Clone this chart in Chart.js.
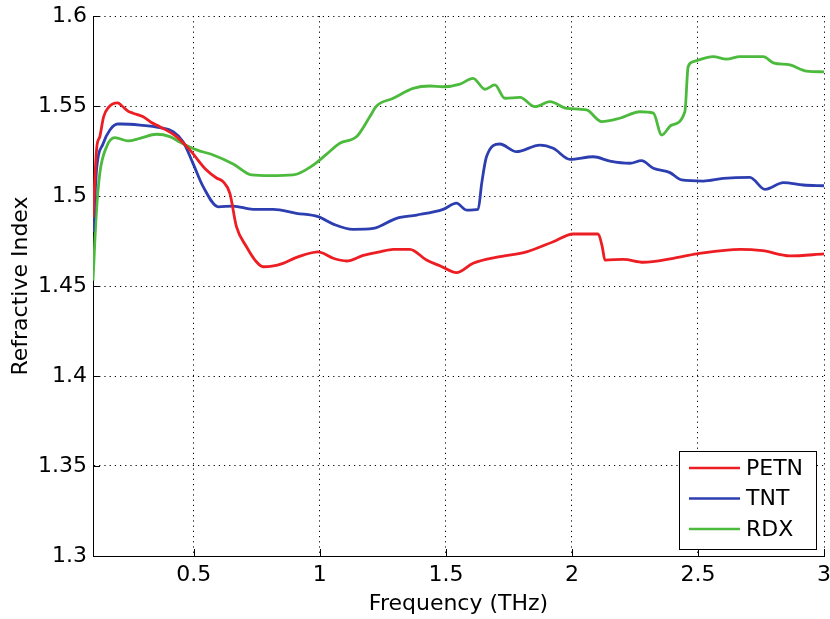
<!DOCTYPE html>
<html>
<head>
<meta charset="utf-8">
<script src="https://cdn.jsdelivr.net/npm/chart.js@4.4.1/dist/chart.umd.min.js"></script>
<style>
    html, body { margin: 0; padding: 0; background: #fff; }
</style>
</head>
<body>
<canvas id="bieudo" width="830" height="619"></canvas>
<script>
// tick values / labels
const xTicks = [0.5, 1, 1.5, 2, 2.5, 3];
const xTickLabels = ['0.5', '1', '1.5', '2', '2.5', '3'];
const yTicks = [1.3, 1.35, 1.4, 1.45, 1.5, 1.55, 1.6];
const yTickLabels = ['1.3', '1.35', '1.4', '1.45', '1.5', '1.55', '1.6'];

const seriesNames = ['PETN', 'TNT', 'RDX'];

// PETN
const petnFreq = [0.100, 0.115, 0.127, 0.142, 0.160, 0.198, 0.215, 0.240, 0.259, 0.299, 0.330, 0.365, 0.431, 0.484, 0.550, 0.590, 0.616, 0.643, 0.669, 0.709, 0.745, 0.775, 0.810, 0.854, 0.900, 0.934, 0.993, 1.053, 1.106, 1.172, 1.238, 1.291, 1.357, 1.423, 1.480, 1.542, 1.608, 1.714, 1.820, 1.926, 2.005, 2.104, 2.120, 2.131, 2.204, 2.283, 2.402, 2.495, 2.667, 2.756, 2.865, 3.000];
const petnIndex = [1.488, 1.527, 1.533, 1.544, 1.549, 1.5517, 1.550, 1.547, 1.546, 1.544, 1.541, 1.5385, 1.533, 1.5256, 1.5144, 1.510, 1.508, 1.5015, 1.483, 1.4718, 1.464, 1.4607, 1.461, 1.4626, 1.4655, 1.4672, 1.469, 1.4654, 1.4639, 1.467, 1.469, 1.4704, 1.4704, 1.4644, 1.461, 1.4574, 1.4626, 1.4663, 1.469, 1.4746, 1.4789, 1.4789, 1.472, 1.4644, 1.4648, 1.4632, 1.4654, 1.4678, 1.4704, 1.4696, 1.4667, 1.4678];

// TNT
const tntFreq = [0.100, 0.115, 0.140, 0.167, 0.198, 0.213, 0.286, 0.365, 0.418, 0.458, 0.497, 0.537, 0.597, 0.656, 0.735, 0.815, 0.907, 0.993, 1.053, 1.132, 1.212, 1.304, 1.384, 1.489, 1.542, 1.582, 1.628, 1.642, 1.661, 1.714, 1.780, 1.873, 1.926, 1.992, 2.085, 2.151, 2.230, 2.276, 2.323, 2.389, 2.435, 2.521, 2.600, 2.706, 2.766, 2.839, 2.918, 3.000];
const tntIndex = [1.480, 1.516, 1.529, 1.5367, 1.540, 1.540, 1.5394, 1.538, 1.5357, 1.530, 1.518, 1.5052, 1.494, 1.4944, 1.4926, 1.4926, 1.4904, 1.4885, 1.4844, 1.4815, 1.482, 1.4876, 1.4894, 1.4926, 1.496, 1.4922, 1.4926, 1.507, 1.5218, 1.5289, 1.5246, 1.5283, 1.5265, 1.5204, 1.5218, 1.5194, 1.5182, 1.5196, 1.5154, 1.513, 1.5089, 1.5083, 1.5098, 1.5104, 1.5037, 1.5074, 1.5061, 1.5057];

// RDX
const rdxFreq = [0.100, 0.113, 0.127, 0.154, 0.187, 0.239, 0.286, 0.352, 0.405, 0.444, 0.511, 0.577, 0.656, 0.729, 0.802, 0.894, 0.974, 1.027, 1.079, 1.146, 1.198, 1.225, 1.291, 1.370, 1.437, 1.489, 1.556, 1.608, 1.655, 1.694, 1.734, 1.794, 1.853, 1.913, 1.979, 2.058, 2.118, 2.190, 2.270, 2.323, 2.356, 2.395, 2.448, 2.461, 2.481, 2.560, 2.613, 2.667, 2.759, 2.799, 2.865, 2.931, 3.000];
const rdxIndex = [1.453, 1.490, 1.5126, 1.5274, 1.5324, 1.5306, 1.532, 1.5343, 1.533, 1.530, 1.5256, 1.5228, 1.5178, 1.5117, 1.5113, 1.5117, 1.5172, 1.5233, 1.5293, 1.533, 1.544, 1.550, 1.5543, 1.5598, 1.5611, 1.5607, 1.5622, 1.5654, 1.5593, 1.5617, 1.5543, 1.5548, 1.5496, 1.5524, 1.5487, 1.5478, 1.5413, 1.5432, 1.5468, 1.546, 1.5339, 1.5394, 1.5468, 1.5718, 1.5746, 1.5774, 1.576, 1.5774, 1.5774, 1.574, 1.5728, 1.5694, 1.569];

function toPoints(xs, ys) {
    return xs.map(function (x, i) {
        return { x: x, y: ys[i] };
    });
}

const fontChu = { family: 'DejaVu Sans', size: 22 };

// short inward tick marks like matlab
const tickMarks = {
    id: 'tickMarks',
    beforeDatasetsDraw: function (chart) {
        var ctx = chart.ctx;
        var a = chart.chartArea;
        var sx = chart.scales.x;
        var sy = chart.scales.y;
        ctx.save();
        ctx.strokeStyle = '#000';
        ctx.lineWidth = 1;
        ctx.beginPath();
        xTicks.forEach(function (v) {
            var px = Math.round(sx.getPixelForValue(v)) + 0.5;
            ctx.moveTo(px, a.bottom);
            ctx.lineTo(px, a.bottom - 7);
        });
        yTicks.forEach(function (v) {
            var py = Math.round(sy.getPixelForValue(v)) + 0.5;
            ctx.moveTo(a.left, py);
            ctx.lineTo(a.left + 7, py);
        });
        ctx.stroke();
        ctx.restore();
    }
};

// legend box in lower right corner
const legendBox = {
    id: 'legendBox',
    afterDraw: function (chart) {
        var ctx = chart.ctx;
        var left = 679.5, top = 451.5, w = 137, h = 98;
        ctx.save();
        ctx.fillStyle = '#fff';
        ctx.fillRect(left, top, w, h);
        ctx.strokeStyle = '#000';
        ctx.lineWidth = 1;
        ctx.strokeRect(left, top, w, h);
        ctx.font = fontChu.size + 'px "' + fontChu.family + '"';
        ctx.textBaseline = 'middle';
        chart.data.datasets.forEach(function (ds, i) {
            var y = 468 + i * 30.5;
            ctx.strokeStyle = ds.borderColor;
            ctx.lineWidth = 2.5;
            ctx.beginPath();
            ctx.moveTo(689, y);
            ctx.lineTo(740, y);
            ctx.stroke();
            ctx.fillStyle = '#000';
            ctx.fillText(ds.label, 746, y + 1);
        });
        ctx.restore();
    }
};

const bieudo = document.getElementById('bieudo');

new Chart(bieudo, {
    type: 'line',
    data: {
        datasets: [{
            label: seriesNames[0],
            data: toPoints(petnFreq, petnIndex),
            borderColor: 'rgb(236, 30, 36)'
        }, {
            label: seriesNames[1],
            data: toPoints(tntFreq, tntIndex),
            borderColor: 'rgb(44, 62, 176)'
        }, {
            label: seriesNames[2],
            data: toPoints(rdxFreq, rdxIndex),
            borderColor: 'rgb(76, 186, 60)'
        }]
    },
    options: {
        responsive: false,
        animation: false,
        devicePixelRatio: 1,
        layout: {
            padding: { left: 0, top: 16, right: 6, bottom: 0 }
        },
        elements: {
            point: { radius: 0 },
            line: { borderWidth: 2.8, cubicInterpolationMode: 'monotone', fill: false }
        },
        plugins: {
            legend: { display: false },
            tooltip: { enabled: false }
        },
        scales: {
            x: {
                type: 'linear',
                min: 0.1,
                max: 3,
                afterBuildTicks: function (scale) {
                    scale.ticks = xTicks.map(function (v) { return { value: v }; });
                },
                afterFit: function (scale) {
                    scale.height = 63;
                    scale.paddingLeft = 0;
                    scale.paddingRight = 0;
                },
                ticks: {
                    autoSkip: false,
                    maxRotation: 0,
                    padding: 6,
                    color: '#000',
                    font: fontChu,
                    callback: function (value, index) {
                        return xTickLabels[index];
                    }
                },
                grid: { color: '#000', lineWidth: 1, drawTicks: false },
                border: { display: true, color: '#000', width: 1, dash: [1.2, 4] },
                title: {
                    display: true,
                    text: 'Frequency (THz)',
                    color: '#000',
                    font: fontChu,
                    padding: { top: 0, bottom: 2 }
                }
            },
            y: {
                type: 'linear',
                min: 1.3,
                max: 1.6,
                afterBuildTicks: function (scale) {
                    scale.ticks = yTicks.map(function (v) { return { value: v }; });
                },
                afterFit: function (scale) {
                    scale.width = 93;
                    scale.paddingTop = 0;
                    scale.paddingBottom = 0;
                },
                ticks: {
                    padding: 6,
                    color: '#000',
                    font: fontChu,
                    callback: function (value, index) {
                        return yTickLabels[index];
                    }
                },
                grid: { color: '#000', lineWidth: 1, drawTicks: false },
                border: { display: true, color: '#000', width: 1, dash: [1.2, 4] },
                title: {
                    display: true,
                    text: 'Refractive Index',
                    color: '#000',
                    font: fontChu,
                    padding: { top: 8, bottom: 0 }
                }
            }
        }
    },
    plugins: [tickMarks, legendBox]
});
</script>
</body>
</html>
